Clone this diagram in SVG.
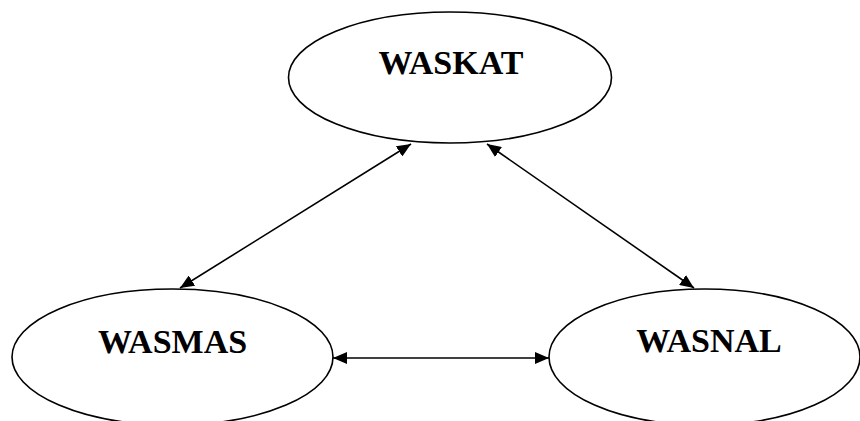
<svg xmlns="http://www.w3.org/2000/svg" width="860" height="421" viewBox="0 0 860 421">
<style>
.node ellipse{fill:#fff;stroke:#000;stroke-width:1.6}
.node text{font-family:"Liberation Serif","Times New Roman",serif;font-weight:bold;font-size:34px;fill:#000;text-anchor:middle}
.edge{stroke:#000;stroke-width:1.6;fill:none;marker-start:url(#ah);marker-end:url(#ah)}
</style>
<defs>
<marker id="ah" markerUnits="userSpaceOnUse" markerWidth="14" markerHeight="12" viewBox="0 0 14 12" refX="14" refY="6" orient="auto-start-reverse">
<path d="M0,0 L14,6 L0,12 z" fill="#000"/>
</marker>
</defs>
<rect width="860" height="421" fill="#fff"/>
<g id="connectors">
<line class="edge" x1="180" y1="288" x2="411" y2="144"/>
<line class="edge" x1="487" y1="144" x2="694" y2="288"/>
<line class="edge" x1="333" y1="358" x2="549" y2="358"/>
</g>
<g id="waskat" class="node">
<ellipse cx="450" cy="77.5" rx="161.5" ry="65.5"/>
<text x="451" y="74">WASKAT</text>
</g>
<g id="wasmas" class="node">
<ellipse cx="172.5" cy="357" rx="160.5" ry="68"/>
<text x="172.5" y="353">WASMAS</text>
</g>
<g id="wasnal" class="node">
<ellipse cx="704.5" cy="357" rx="155.5" ry="68"/>
<text x="709" y="352">WASNAL</text>
</g>
</svg>
